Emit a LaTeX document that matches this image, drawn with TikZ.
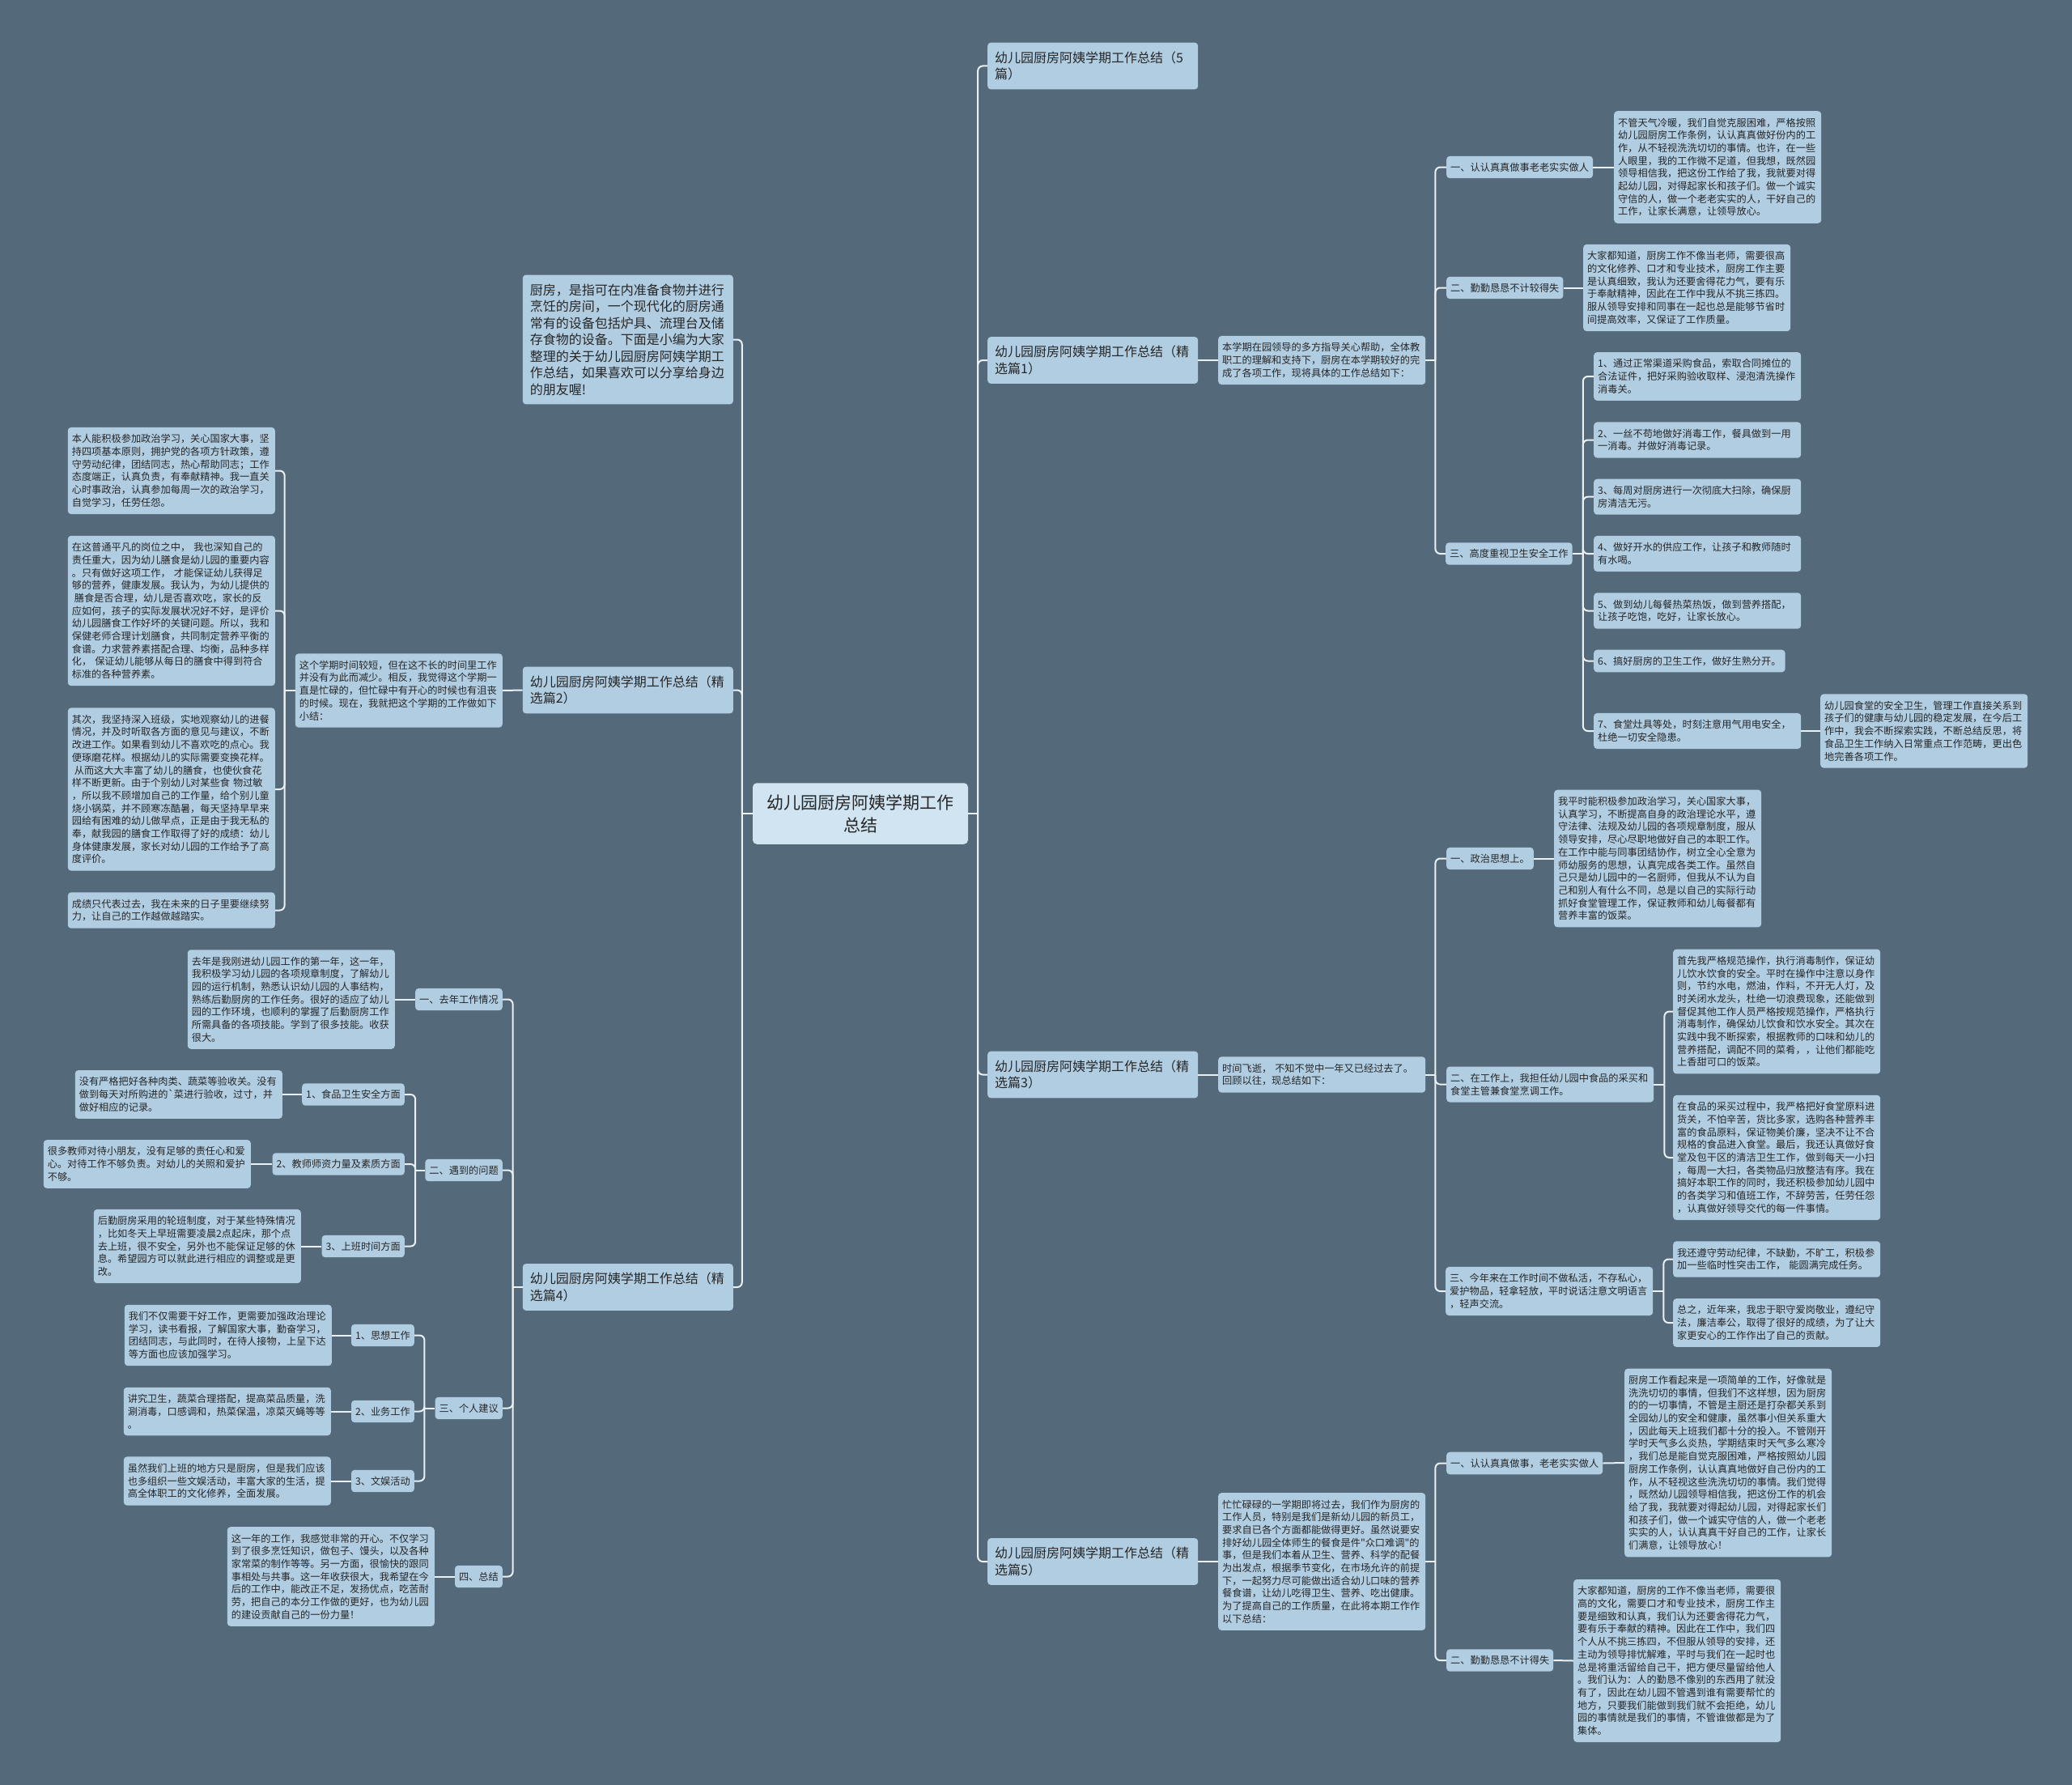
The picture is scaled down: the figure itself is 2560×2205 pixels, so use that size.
\documentclass[tikz,border=0pt]{standalone}
\usepackage{fontspec}
\newfontfamily\cjk{Noto Sans CJK SC}
\definecolor{bgslate}{RGB}{84,106,122}
\definecolor{boxfill}{RGB}{176,205,226}
\definecolor{rootfill}{RGB}{208,228,241}
\definecolor{linec}{RGB}{234,240,244}
\definecolor{txtc}{RGB}{38,38,38}
\tikzset{
  rootbox/.style={rectangle,rounded corners=5pt,fill=rootfill,text=txtc,
                  font=\cjk\fontsize{21}{28}\selectfont,text width=238pt,
                  align=center,inner xsep=14pt,inner ysep=14pt},
  topic/.style={rectangle,rounded corners=4pt,fill=boxfill,text=txtc,
                font=\cjk\fontsize{16}{20.5}\selectfont,text width=242pt,
                align=left,inner xsep=9pt,inner ysep=11pt},
  txtbox/.style={rectangle,rounded corners=4pt,fill=boxfill,text=txtc,
                 font=\cjk\fontsize{12.2}{15.7}\selectfont,text width=246pt,
                 align=left,inner xsep=5pt,inner ysep=8.5pt},
  lbl/.style={rectangle,rounded corners=4pt,fill=boxfill,text=txtc,
              font=\cjk\fontsize{12.2}{15.7}\selectfont,
              inner xsep=5pt,inner ysep=8pt},
  link/.style={draw=linec,line width=2pt},
  elbow/.style={link,rounded corners=6pt},
}
\begin{document}
\begin{tikzpicture}[x=1pt,y=-1pt]
  \fill[bgslate] (0,0) rectangle (2560,2205);
  \useasboundingbox (0,0) rectangle (2560,2205);

  % centre
  \node[rootbox] (root) at (1063,1005) {幼儿园厨房阿姨学期工作\\总结};

  % right side
  \node[topic,anchor=west] (r0) at (1220,81.5) {幼儿园厨房阿姨学期工作总结（5\\篇）};
  \node[topic,anchor=west] (r1) at (1220,445) {幼儿园厨房阿姨学期工作总结（精\\选篇1）};
  \node[txtbox,anchor=west] (d1) at (1505,445)
    {本学期在园领导的多方指导关心帮助，全体教\\职工的理解和支持下，厨房在本学期较好的完\\成了各项工作，现将具体的工作总结如下：};
  \node[lbl,anchor=west] (a1) at (1787,206.5) {一、认认真真做事老老实实做人};
  \node[txtbox,anchor=west] (a1t) at (1994,206.5)
    {不管天气冷暖，我们自觉克服困难，严格按照\\幼儿园厨房工作条例，认认真真做好份内的工\\作，从不轻视洗洗切切的事情。也许，在一些\\人眼里，我的工作微不足道，但我想，既然园\\领导相信我，把这份工作给了我，我就要对得\\起幼儿园，对得起家长和孩子们。做一个诚实\\守信的人，做一个老老实实的人，干好自己的\\工作，让家长满意，让领导放心。};
  \node[lbl,anchor=west] (a2) at (1787,355.5) {二、勤勤恳恳不计较得失};
  \node[txtbox,anchor=west] (a2t) at (1956,355.5)
    {大家都知道，厨房工作不像当老师，需要很高\\的文化修养、口才和专业技术，厨房工作主要\\是认真细致，我认为还要舍得花力气，要有乐\\于奉献精神，因此在工作中我从不挑三拣四。\\服从领导安排和同事在一起也总是能够节省时\\间提高效率，又保证了工作质量。};
  \node[lbl,anchor=west] (a3) at (1786,684) {三、高度重视卫生安全工作};
  \node[txtbox,anchor=west] (i1) at (1969,465)
    {1、通过正常渠道采购食品，索取合同摊位的\\合法证件，把好采购验收取样、浸泡清洗操作\\消毒关。};
  \node[txtbox,anchor=west] (i2) at (1969,543.5)
    {2、一丝不苟地做好消毒工作，餐具做到一用\\一消毒。并做好消毒记录。};
  \node[txtbox,anchor=west] (i3) at (1969,613.7)
    {3、每周对厨房进行一次彻底大扫除，确保厨\\房清洁无污。};
  \node[txtbox,anchor=west] (i4) at (1969,684)
    {4、做好开水的供应工作，让孩子和教师随时\\有水喝。};
  \node[txtbox,anchor=west] (i5) at (1969,754.5)
    {5、做到幼儿每餐热菜热饭，做到营养搭配，\\让孩子吃饱，吃好，让家长放心。};
  \node[lbl,anchor=west] (i6) at (1969,816.5) {6、搞好厨房的卫生工作，做好生熟分开。};
  \node[txtbox,anchor=west] (i7) at (1969,903)
    {7、食堂灶具等处，时刻注意用气用电安全，\\杜绝一切安全隐患。};
  \node[txtbox,anchor=west] (s7) at (2249,903)
    {幼儿园食堂的安全卫生，管理工作直接关系到\\孩子们的健康与幼儿园的稳定发展，在今后工\\作中，我会不断探索实践，不断总结反思，将\\食品卫生工作纳入日常重点工作范畴，更出色\\地完善各项工作。};

  \node[topic,anchor=west] (r3) at (1220,1327.5) {幼儿园厨房阿姨学期工作总结（精\\选篇3）};
  \node[txtbox,anchor=west] (d3) at (1505,1327.5)
    {时间飞逝， 不知不觉中一年又已经过去了。\\回顾以往，现总结如下：};
  \node[lbl,anchor=west] (b1) at (1787,1060.5) {一、政治思想上。};
  \node[txtbox,anchor=west] (b1t) at (1920,1060.5)
    {我平时能积极参加政治学习，关心国家大事，\\认真学习，不断提高自身的政治理论水平，遵\\守法律、法规及幼儿园的各项规章制度，服从\\领导安排，尽心尽职地做好自己的本职工作。\\在工作中能与同事团结协作，树立全心全意为\\师幼服务的思想，认真完成各类工作。虽然自\\己只是幼儿园中的一名厨师，但我从不认为自\\己和别人有什么不同，总是以自己的实际行动\\抓好食堂管理工作，保证教师和幼儿每餐都有\\营养丰富的饭菜。};
  \node[txtbox,anchor=west] (b2) at (1787,1339.5)
    {二、在工作上，我担任幼儿园中食品的采买和\\食堂主管兼食堂烹调工作。};
  \node[txtbox,anchor=west] (b2t1) at (2067,1249.5)
    {首先我严格规范操作，执行消毒制作，保证幼\\儿饮水饮食的安全。平时在操作中注意以身作\\则，节约水电，燃油，作料，不开无人灯，及\\时关闭水龙头，杜绝一切浪费现象，还能做到\\督促其他工作人员严格按规范操作，严格执行\\消毒制作，确保幼儿饮食和饮水安全。其次在\\实践中我不断探索，根据教师的口味和幼儿的\\营养搭配，调配不同的菜肴，，让他们都能吃\\上香甜可口的饭菜。};
  \node[txtbox,anchor=west] (b2t2) at (2067,1430)
    {在食品的采买过程中，我严格把好食堂原料进\\货关，不怕辛苦，货比多家，选购各种营养丰\\富的食品原料，保证物美价廉，坚决不让不合\\规格的食品进入食堂。最后，我还认真做好食\\堂及包干区的清洁卫生工作，做到每天一小扫\\，每周一大扫，各类物品归放整洁有序。我在\\搞好本职工作的同时，我还积极参加幼儿园中\\的各类学习和值班工作，不辞劳苦，任劳任怨\\，认真做好领导交代的每一件事情。};
  \node[txtbox,anchor=west] (b3) at (1786,1595)
    {三、今年来在工作时间不做私活，不存私心，\\爱护物品，轻拿轻放，平时说话注意文明语言\\，轻声交流。};
  \node[txtbox,anchor=west] (b3t1) at (2067,1555.5)
    {我还遵守劳动纪律，不缺勤，不旷工，积极参\\加一些临时性突击工作， 能圆满完成任务。};
  \node[txtbox,anchor=west] (b3t2) at (2067,1634)
    {总之，近年来，我忠于职守爱岗敬业，遵纪守\\法，廉洁奉公，取得了很好的成绩，为了让大\\家更安心的工作作出了自己的贡献。};

  \node[topic,anchor=west] (r5) at (1220,1929) {幼儿园厨房阿姨学期工作总结（精\\选篇5）};
  \node[txtbox,anchor=west] (d5) at (1505,1929)
    {忙忙碌碌的一学期即将过去，我们作为厨房的\\工作人员，特别是我们是新幼儿园的新员工，\\要求自已各个方面都能做得更好。虽然说要安\\排好幼儿园全体师生的餐食是件"众口难调"的\\事，但是我们本着从卫生、营养、科学的配餐\\为出发点，根据季节变化，在市场允许的前提\\下，一起努力尽可能做出适合幼儿口味的营养\\餐食谱，让幼儿吃得卫生、营养、吃出健康。\\为了提高自己的工作质量，在此将本期工作作\\以下总结：};
  \node[lbl,anchor=west] (c1) at (1787,1807.5) {一、认认真真做事，老老实实做人};
  \node[txtbox,anchor=west] (c1t) at (2007,1807)
    {厨房工作看起来是一项简单的工作，好像就是\\洗洗切切的事情，但我们不这样想，因为厨房\\的的一切事情，不管是主厨还是打杂都关系到\\全园幼儿的安全和健康，虽然事小但关系重大\\，因此每天上班我们都十分的投入。不管刚开\\学时天气多么炎热，学期结束时天气多么寒冷\\，我们总是能自觉克服困难，严格按照幼儿园\\厨房工作条例，认认真真地做好自己份内的工\\作，从不轻视这些洗洗切切的事情。我们觉得\\，既然幼儿园领导相信我，把这份工作的机会\\给了我，我就要对得起幼儿园，对得起家长们\\和孩子们，做一个诚实守信的人，做一个老老\\实实的人，认认真真干好自己的工作，让家长\\们满意，让领导放心！};
  \node[lbl,anchor=west] (c2) at (1787,2051) {二、勤勤恳恳不计得失};
  \node[txtbox,anchor=west] (c2t) at (1944,2051.5)
    {大家都知道，厨房的工作不像当老师，需要很\\高的文化，需要口才和专业技术，厨房工作主\\要是细致和认真，我们认为还要舍得花力气，\\要有乐于奉献的精神。因此在工作中，我们四\\个人从不挑三拣四，不但服从领导的安排，还\\主动为领导排忧解难，平时与我们在一起时也\\总是将重活留给自己干，把方便尽量留给他人\\。我们认为：人的勤恳不像别的东西用了就没\\有了，因此在幼儿园不管遇到谁有需要帮忙的\\地方，只要我们能做到我们就不会拒绝，幼儿\\园的事情就是我们的事情，不管谁做都是为了\\集体。};

  % left side
  \node[topic,anchor=east] (lIntro) at (906,419.5)
    {厨房，是指可在内准备食物并进行\\烹饪的房间，一个现代化的厨房通\\常有的设备包括炉具、流理台及储\\存食物的设备。下面是小编为大家\\整理的关于幼儿园厨房阿姨学期工\\作总结，如果喜欢可以分享给身边\\的朋友喔!};

  \node[topic,anchor=east] (l2) at (906,852.5) {幼儿园厨房阿姨学期工作总结（精\\选篇2）};
  \node[txtbox,anchor=east] (e0) at (621,853)
    {这个学期时间较短，但在这不长的时间里工作\\并没有为此而减少。相反，我觉得这个学期一\\直是忙碌的，但忙碌中有开心的时候也有沮丧\\的时候。现在，我就把这个学期的工作做如下\\小结：};
  \node[txtbox,anchor=east] (e1) at (340,581.5)
    {本人能积极参加政治学习，关心国家大事，坚\\持四项基本原则，拥护党的各项方针政策，遵\\守劳动纪律，团结同志，热心帮助同志；工作\\态度端正，认真负责，有奉献精神。我一直关\\心时事政治，认真参加每周一次的政治学习，\\自觉学习，任劳任怨。};
  \node[txtbox,anchor=east] (e2) at (340,754.5)
    {在这普通平凡的岗位之中， 我也深知自己的\\责任重大，因为幼儿膳食是幼儿园的重要内容\\。只有做好这项工作， 才能保证幼儿获得足\\够的营养，健康发展。我认为，为幼儿提供的\\\hspace*{3pt}膳食是否合理，幼儿是否喜欢吃，家长的反\\应如何，孩子的实际发展状况好不好，是评价\\幼儿园膳食工作好坏的关键问题。所以，我和\\保健老师合理计划膳食，共同制定营养平衡的\\食谱。力求营养素搭配合理、均衡，品种多样\\化， 保证幼儿能够从每日的膳食中得到符合\\标准的各种营养素。};
  \node[txtbox,anchor=east] (e3) at (340,975)
    {其次，我坚持深入班级，实地观察幼儿的进餐\\情况，并及时听取各方面的意见与建议，不断\\改进工作。如果看到幼儿不喜欢吃的点心。我\\便琢磨花样。根据幼儿的实际需要变换花样。\\\hspace*{3pt}从而这大大丰富了幼儿的膳食，也使伙食花\\样不断更新。由于个别幼儿对某些食 物过敏\\，所以我不顾增加自己的工作量，给个别儿童\\烧小锅菜，并不顾寒冻酷暑，每天坚持早早来\\园给有困难的幼儿做早点，正是由于我无私的\\奉，献我园的膳食工作取得了好的成绩：幼儿\\身体健康发展，家长对幼儿园的工作给予了高\\度评价。};
  \node[txtbox,anchor=east] (e4) at (340,1124.5)
    {成绩只代表过去，我在未来的日子里要继续努\\力，让自己的工作越做越踏实。};

  \node[topic,anchor=east] (l4) at (906,1590) {幼儿园厨房阿姨学期工作总结（精\\选篇4）};
  \node[lbl,anchor=east] (f1) at (621,1234.5) {一、去年工作情况};
  \node[txtbox,anchor=east] (f1t) at (488,1234.5)
    {去年是我刚进幼儿园工作的第一年，这一年，\\我积极学习幼儿园的各项规章制度，了解幼儿\\园的运行机制，熟悉认识幼儿园的人事结构，\\熟练后勤厨房的工作任务。很好的适应了幼儿\\园的工作环境，也顺利的掌握了后勤厨房工作\\所需具备的各项技能。学到了很多技能。收获\\很大。};
  \node[lbl,anchor=east] (f2) at (621,1445.5) {二、遇到的问题};
  \node[lbl,anchor=east] (g1) at (500,1352) {1、食品卫生安全方面};
  \node[txtbox,anchor=east] (g1t) at (349,1352)
    {没有严格把好各种肉类、蔬菜等验收关。没有\\做到每天对所购进的`菜进行验收，过寸，并\\做好相应的记录。};
  \node[lbl,anchor=east] (g2) at (500,1438) {2、教师师资力量及素质方面};
  \node[txtbox,anchor=east] (g2t) at (310,1438)
    {很多教师对待小朋友，没有足够的责任心和爱\\心。对待工作不够负责。对幼儿的关照和爱护\\不够。};
  \node[lbl,anchor=east] (g3) at (500,1539.5) {3、上班时间方面};
  \node[txtbox,anchor=east] (g3t) at (372,1539.5)
    {后勤厨房采用的轮班制度，对于某些特殊情况\\，比如冬天上早班需要凌晨2点起床，那个点\\去上班，很不安全，另外也不能保证足够的休\\息。希望园方可以就此进行相应的调整或是更\\改。};
  \node[lbl,anchor=east] (f3) at (621,1739.5) {三、个人建议};
  \node[lbl,anchor=east] (h1) at (512,1649.5) {1、思想工作};
  \node[txtbox,anchor=east] (h1t) at (410,1649.5)
    {我们不仅需要干好工作，更需要加强政治理论\\学习，读书看报，了解国家大事，勤奋学习，\\团结同志，与此同时，在待人接物，上呈下达\\等方面也应该加强学习。};
  \node[lbl,anchor=east] (h2) at (512,1743.5) {2、业务工作};
  \node[txtbox,anchor=east] (h2t) at (409,1743.5)
    {讲究卫生，蔬菜合理搭配，提高菜品质量，洗\\涮消毒，口感调和，热菜保温，凉菜灭蝇等等\\。};
  \node[lbl,anchor=east] (h3) at (512,1829.5) {3、文娱活动};
  \node[txtbox,anchor=east] (h3t) at (409,1829.5)
    {虽然我们上班的地方只是厨房，但是我们应该\\也多组织一些文娱活动，丰富大家的生活，提\\高全体职工的文化修养，全面发展。};
  \node[lbl,anchor=east] (f4) at (621,1947.5) {四、总结};
  \node[txtbox,anchor=east] (f4t) at (537,1947.5)
    {这一年的工作，我感觉非常的开心。不仅学习\\到了很多烹饪知识，做包子、馒头，以及各种\\家常菜的制作等等。另一方面，很愉快的跟同\\事相处与共事。这一年收获很大，我希望在今\\后的工作中，能改正不足，发扬优点，吃苦耐\\劳，把自己的本分工作做的更好，也为幼儿园\\的建设贡献自己的一份力量！};

  % connectors, right
  \draw[link] (root.east) -- ++(12,0) coordinate (rj);
  \foreach \n in {r0,r1,r3,r5}
    \draw[elbow] (rj) |- (\n.west);
  \foreach \a/\b in {r1/d1,a1/a1t,a2/a2t,i7/s7,r3/d3,b1/b1t,r5/d5,c1/c1t,c2/c2t}
    \draw[link] (\a.east) -- (\b.west);
  \draw[link] (d1.east) -- ++(12,0) coordinate (d1j);
  \foreach \n in {a1,a2,a3}
    \draw[elbow] (d1j) |- (\n.west);
  \draw[link] (a3.east) -- ++(13,0) coordinate (a3j);
  \foreach \n in {i1,i2,i3,i4,i5,i6,i7}
    \draw[elbow] (a3j) |- (\n.west);
  \draw[link] (d3.east) -- ++(12,0) coordinate (d3j);
  \foreach \n in {b1,b2,b3}
    \draw[elbow] (d3j) |- (\n.west);
  \draw[link] (b2.east) -- ++(13,0) coordinate (b2j);
  \foreach \n in {b2t1,b2t2}
    \draw[elbow] (b2j) |- (\n.west);
  \draw[link] (b3.east) -- ++(13,0) coordinate (b3j);
  \foreach \n in {b3t1,b3t2}
    \draw[elbow] (b3j) |- (\n.west);
  \draw[link] (d5.east) -- ++(12,0) coordinate (d5j);
  \foreach \n in {c1,c2}
    \draw[elbow] (d5j) |- (\n.west);

  % connectors, left
  \draw[link] (root.west) -- ++(-13,0) coordinate (lj);
  \foreach \n in {lIntro,l2,l4}
    \draw[elbow] (lj) |- (\n.east);
  \foreach \a/\b in {l2/e0,f1/f1t,g1/g1t,g2/g2t,g3/g3t,h1/h1t,h2/h2t,h3/h3t,f4/f4t}
    \draw[link] (\a.west) -- (\b.east);
  \draw[link] (e0.west) -- ++(-13,0) coordinate (e0j);
  \foreach \n in {e1,e2,e3,e4}
    \draw[elbow] (e0j) |- (\n.east);
  \draw[link] (l4.west) -- ++(-12,0) coordinate (l4j);
  \foreach \n in {f1,f2,f3,f4}
    \draw[elbow] (l4j) |- (\n.east);
  \draw[link] (f2.west) -- ++(-12,0) coordinate (f2j);
  \foreach \n in {g1,g2,g3}
    \draw[elbow] (f2j) |- (\n.east);
  \draw[link] (f3.west) -- ++(-13,0) coordinate (f3j);
  \foreach \n in {h1,h2,h3}
    \draw[elbow] (f3j) |- (\n.east);
\end{tikzpicture}
\end{document}
